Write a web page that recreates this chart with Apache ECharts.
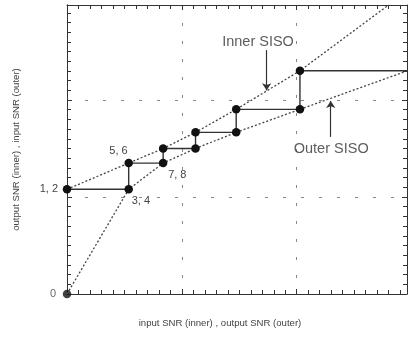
<!DOCTYPE html>
<html lang="en">
<head>
<meta charset="UTF-8">
<script src="https://cdn.jsdelivr.net/npm/echarts@6/dist/echarts.min.js"></script>
<title>SISO exchange</title>
<style>
  html, body { margin: 0; padding: 0; background: #fff; }
  #chart { width: 408px; height: 338px; }
</style>
</head>
<body>
<div id="chart"></div>
<script>
// curves (data units: x 0..3, y 0..3)
var innerX = [0, 0.537, 0.837, 1.119, 1.473, 2.028, 2.80];
var innerY = [1.08, 1.35, 1.50, 1.667, 1.904, 2.302, 2.98];
var outerX = [0, 0.537, 0.837, 1.119, 1.473, 2.028, 2.96];
var outerY = [0, 1.08, 1.35, 1.50, 1.667, 1.904, 2.30];

// decoding trajectory
var stepX = [0, 0.537, 0.537, 0.837, 0.837, 1.119, 1.119, 1.473, 1.473, 2.028, 2.028, 2.96];
var stepY = [1.08, 1.08, 1.35, 1.35, 1.50, 1.50, 1.667, 1.667, 1.904, 1.904, 2.302, 2.302];
var stepLabels = ['1, 2', '3, 4', '5, 6', '7, 8'];

var originX = [0];
var originY = [0];
var originLabel = ['0'];

// annotations
var annoText = ['Inner SISO', 'Outer SISO'];
var annoX = [1.663, 2.30];
var annoY = [2.598, 1.50];
var arrowX = [1.738, 2.296];
var arrowFrom = [2.515, 1.62];
var arrowTo = [2.10, 1.99];

var xTitle = 'input SNR (inner) , output SNR (outer)';
var yTitle = 'output SNR (inner) , input SNR (outer)';

var FONT = '"Liberation Sans", Arial, sans-serif';
var INK = '#333';
var XMAX = 2.96, YMAX = 2.98;

function zip(a, b) {
    var out = [];
    for (var i = 0; i < a.length; i++) out.push([a[i], b[i]]);
    return out;
}

// label placement for the numbered points
var labelPlace = [
    { align: 'right', offset: [-9, 0] },
    { align: 'left', offset: [3, 12] },
    { align: 'right', offset: [-1, -12.5] },
    { align: 'left', offset: [5, 12] }
];

var stepData = zip(stepX, stepY).map(function (p, i) {
    var item = { value: p };
    if (stepLabels[i]) {
        item.label = {
            show: true, formatter: stepLabels[i], position: 'inside',
            align: labelPlace[i].align, verticalAlign: 'middle', offset: labelPlace[i].offset
        };
    }
    return item;
});
var lastStep = stepX.length - 1;

function frameAxis(pos, max, grid, gridIndex) {
    return {
        type: 'value', gridIndex: gridIndex || 0, position: pos, min: 0, max: max, interval: 1,
        axisLine: { show: true, onZero: false, lineStyle: { color: INK, width: 1 } },
        axisTick: { show: true, inside: true, length: 5, lineStyle: { color: INK, width: 1 } },
        minorTick: { show: true, splitNumber: 10, length: 4, lineStyle: { color: INK, width: 1 } },
        axisLabel: { show: false },
        splitLine: grid ? { show: true, lineStyle: { color: '#888', width: 1, type: [3, 15] } } : { show: false },
        minorSplitLine: { show: false }
    };
}

var plotRect = { left: 67, top: 5, width: 340, height: 289 };

var chart = echarts.init(document.getElementById('chart'));
var option = {
    animation: false,
    textStyle: { fontFamily: FONT },
    // second grid on the same rectangle only carries the left edge ticks
    grid: [plotRect, plotRect],
    xAxis: [
        frameAxis('bottom', XMAX, true),
        frameAxis('top', XMAX, false),
        { type: 'value', gridIndex: 1, min: 0, max: XMAX, show: false }
    ],
    yAxis: [
        frameAxis('left', YMAX, true),
        frameAxis('right', YMAX, false),
        frameAxis('left', YMAX, false, 1)
    ],
    graphic: [
        { type: 'text', x: 220, y: 323, silent: true,
          style: { text: xTitle, align: 'center', verticalAlign: 'middle', font: '9.6px ' + FONT, fill: '#444' } },
        { type: 'text', x: 16, y: 149.5, rotation: Math.PI / 2, silent: true,
          style: { text: yTitle, align: 'center', verticalAlign: 'middle', font: '9.6px ' + FONT, fill: '#444' } }
    ],
    series: [
        {
            name: 'Inner SISO', type: 'line', data: zip(innerX, innerY), showSymbol: false,
            clip: false, silent: true,
            lineStyle: { color: '#444', width: 1.3, type: [2, 2] }
        },
        {
            name: 'Outer SISO', type: 'line', data: zip(outerX, outerY), showSymbol: false,
            clip: false, silent: true,
            lineStyle: { color: '#444', width: 1.3, type: [2, 2] }
        },
        {
            name: 'trajectory', type: 'line', data: stepData, clip: false, silent: true,
            symbol: 'circle',
            symbolSize: function (v, p) { return p.dataIndex === lastStep ? 0 : 8.5; },
            itemStyle: { color: '#111' },
            lineStyle: { color: INK, width: 1.4 },
            label: { color: '#444', fontSize: 11, fontFamily: FONT }
        },
        {
            name: 'origin', type: 'scatter', data: zip(originX, originY), clip: false, silent: true,
            symbol: 'circle', symbolSize: 8.5, itemStyle: { color: '#111' },
            label: {
                show: true, formatter: originLabel[0], position: 'inside', align: 'right',
                verticalAlign: 'middle', offset: [-11, 0], color: '#444', fontSize: 11, fontFamily: FONT
            }
        },
        {
            name: 'notes', type: 'scatter', data: zip(annoX, annoY), clip: false, silent: true,
            symbolSize: 0,
            label: {
                show: true, position: 'inside', color: '#333', fontSize: 14.5, fontFamily: FONT,
                formatter: function (p) { return annoText[p.dataIndex]; }
            },
            markLine: {
                silent: true, animation: false,
                symbol: ['none', 'arrow'], symbolSize: 7,
                label: { show: false },
                lineStyle: { color: INK, width: 1.2, type: 'solid' },
                data: arrowX.map(function (x, i) {
                    return [{ coord: [x, arrowFrom[i]] }, { coord: [x, arrowTo[i]] }];
                })
            }
        }
    ]
};
chart.setOption(option);
</script>
</body>
</html>
